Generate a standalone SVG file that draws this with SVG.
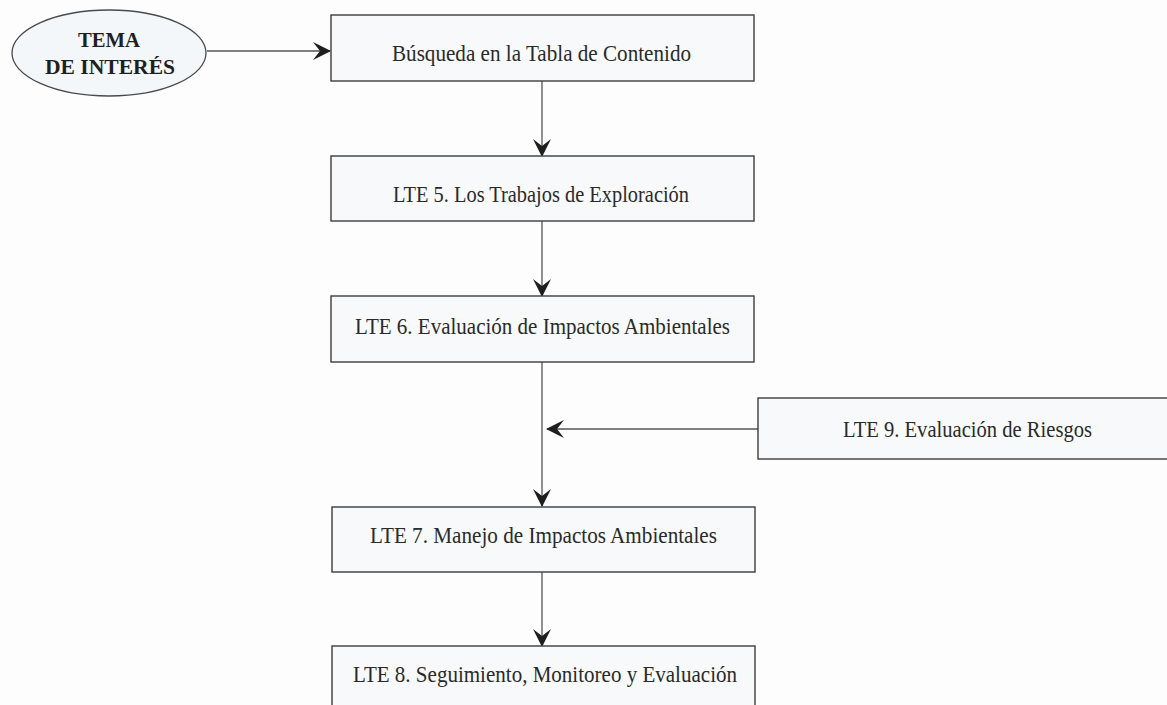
<svg xmlns="http://www.w3.org/2000/svg" width="1167" height="705" viewBox="0 0 1167 705">
  <style>
    .bg { fill: #fdfdfd; }
    .box { fill: #f7f9fb; stroke: #3c3c3c; stroke-width: 1.4; }
    .ell { fill: #f4f7fa; stroke: #4a4a4a; stroke-width: 1.3; }
    .lbl { font-family: "Liberation Serif", "DejaVu Serif", serif; font-size: 22.5px; fill: #2a2a2a; text-anchor: middle; }
    .bold { font-weight: bold; fill: #1f1f1f; font-size: 21.5px; }
    .conn { stroke: #555555; stroke-width: 1.3; fill: none; marker-end: url(#arrow); }
  </style>
  <defs>
    <marker id="arrow" markerUnits="userSpaceOnUse" viewBox="0 0 18 18" markerWidth="18" markerHeight="18" refX="17" refY="9" orient="auto">
      <path d="M0,0 L18,9 L0,18 L7,9 Z" fill="#1e1e1e"/>
    </marker>
  </defs>
  <rect class="bg" x="0" y="0" width="1167" height="705"/>

  <g id="connectors">
    <line class="conn" x1="207" y1="51" x2="330" y2="51"/>
    <line class="conn" x1="542" y1="81" x2="542" y2="156"/>
    <line class="conn" x1="542" y1="221" x2="542" y2="296"/>
    <line class="conn" x1="542" y1="362" x2="542" y2="506"/>
    <line class="conn" x1="758" y1="429" x2="547" y2="429"/>
    <line class="conn" x1="542" y1="572" x2="542" y2="646"/>
  </g>

  <g id="tema">
    <ellipse class="ell" cx="109" cy="53" rx="97" ry="43"/>
    <text class="lbl bold" x="109" y="47" textLength="62" lengthAdjust="spacingAndGlyphs">TEMA</text>
    <text class="lbl bold" x="110" y="74" textLength="130" lengthAdjust="spacingAndGlyphs">DE INTERÉS</text>
  </g>

  <g id="busqueda">
    <rect class="box" x="331" y="15" width="423" height="66"/>
    <text class="lbl" x="541.5" y="61" textLength="299" lengthAdjust="spacingAndGlyphs">Búsqueda en la Tabla de Contenido</text>
  </g>

  <g id="lte5">
    <rect class="box" x="331" y="156" width="423" height="65"/>
    <text class="lbl" x="541" y="202" textLength="296" lengthAdjust="spacingAndGlyphs">LTE 5. Los Trabajos de Exploración</text>
  </g>

  <g id="lte6">
    <rect class="box" x="331" y="296" width="423" height="66"/>
    <text class="lbl" x="542.5" y="334" textLength="375" lengthAdjust="spacingAndGlyphs">LTE 6. Evaluación de Impactos Ambientales</text>
  </g>

  <g id="lte9">
    <rect class="box" x="758" y="398" width="420" height="61"/>
    <text class="lbl" x="967.5" y="437" textLength="249" lengthAdjust="spacingAndGlyphs">LTE 9. Evaluación de Riesgos</text>
  </g>

  <g id="lte7">
    <rect class="box" x="332" y="507" width="423" height="65"/>
    <text class="lbl" x="543.5" y="543" textLength="347" lengthAdjust="spacingAndGlyphs">LTE 7. Manejo de Impactos Ambientales</text>
  </g>

  <g id="lte8">
    <rect class="box" x="332" y="646" width="423" height="80"/>
    <text class="lbl" x="545" y="682" textLength="384" lengthAdjust="spacingAndGlyphs">LTE 8. Seguimiento, Monitoreo y Evaluación</text>
  </g>
</svg>
